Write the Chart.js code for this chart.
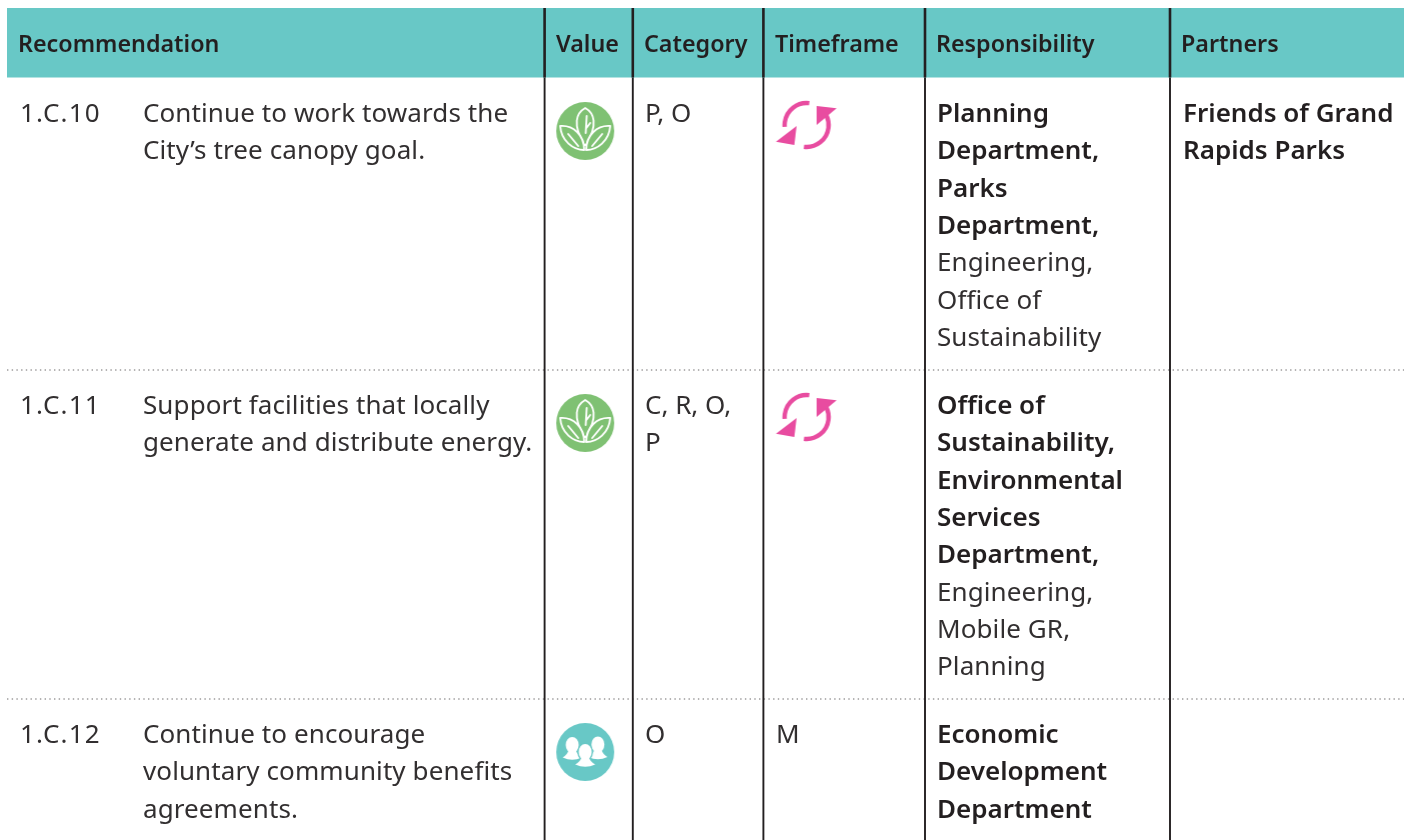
<!DOCTYPE html>
<html>

<head>
  <script src="https://cdnjs.cloudflare.com/ajax/libs/Chart.js/4.4.1/chart.umd.min.js"></script>
  <style>
    html, body { margin: 0; padding: 0; background: #fff; }
    canvas { display: block; }
  </style>
</head>

<body>
  <canvas id="myChart" width="1413" height="840"></canvas>

  <script type="text/javascript">
    // table content
    var headers = ["Recommendation", "Value", "Category", "Timeframe", "Responsibility", "Partners"];
    var rowIds = ["1.C.10", "1.C.11", "1.C.12"];
    var recommendations = [
      ["Continue to work towards the", "City\u2019s tree canopy goal."],
      ["Support facilities that locally", "generate and distribute energy."],
      ["Continue to encourage", "voluntary community benefits", "agreements."]
    ];
    var values = ["leaf", "leaf", "people"];
    var categories = [["P, O"], ["C, R, O,", "P"], ["O"]];
    var timeframes = ["cycle", "cycle", "M"];
    var responsibleLead = [
      ["Planning", "Department,", "Parks", "Department,"],
      ["Office of", "Sustainability,", "Environmental", "Services", "Department,"],
      ["Economic", "Development", "Department"]
    ];
    var responsibleOther = [
      ["Engineering,", "Office of", "Sustainability"],
      ["Engineering,", "Mobile GR,", "Planning"],
      []
    ];
    var partners = [["Friends of Grand", "Rapids Parks"], [], []];

    // layout, in the pixel units of the two hidden axes
    var WIDTH = 1413, HEIGHT = 840;
    var band = { left: 7, right: 1404, top: 8, bottom: 77.5 };
    var colLines = [544.6, 632.8, 763.4, 925, 1170];
    var rowLines = [370, 699];
    var headerX = [18, 556, 644, 775, 936, 1181];
    var cellX = { id: 20, rec: 143, cat: 645, time: 776, resp: 937, part: 1183 };
    var rowBase = [122, 414, 743];
    var rowIconY = [131, 423, 752];
    var LINE = 37.35;

    var INK = "#231f20";
    var BODY_INK = "#322f30";
    var TEAL = "#68c8c6";
    var FONT = '"Noto Sans", sans-serif';

    function iconCanvas(size, draw) {
      var c = document.createElement("canvas");
      c.width = size;
      c.height = size;
      var g = c.getContext("2d");
      g.translate(size / 2, size / 2);
      draw(g);
      return c;
    }

    var leafIcon = iconCanvas(60, function (g) {
      g.fillStyle = "#7fc173";
      g.beginPath();
      g.arc(0, 0, 29, 0, Math.PI * 2);
      g.fill();
      g.strokeStyle = "#fff";
      g.lineWidth = 1.9;
      g.lineJoin = "round";
      g.lineCap = "round";
      // middle leaf first, the side leaves cover its foot
      g.beginPath();
      g.moveTo(0, -23);
      g.bezierCurveTo(9, -18, 13, -7, 1, 14);
      g.lineTo(-1, 14);
      g.bezierCurveTo(-13, -7, -9, -18, 0, -23);
      g.closePath();
      g.stroke();
      [-1, 1].forEach(function (side) {
        g.save();
        g.scale(side, 1);
        g.beginPath();
        g.moveTo(-25, -5);
        g.bezierCurveTo(-12, -6, -1, 4, -1, 19);
        g.bezierCurveTo(-12, 19, -24, 10, -25, -5);
        g.closePath();
        g.fill();
        g.stroke();
        g.beginPath();
        g.moveTo(-17, 3);
        g.lineTo(-7, 15);
        g.stroke();
        g.restore();
      });
      g.beginPath();
      g.moveTo(1.5, -15);
      g.lineTo(0.5, 2);
      g.moveTo(1.2, -3);
      g.lineTo(5, -8);
      g.stroke();
    });

    var peopleIcon = iconCanvas(60, function (g) {
      g.fillStyle = TEAL;
      g.beginPath();
      g.arc(0, 0, 29, 0, Math.PI * 2);
      g.fill();
      function person(x, y, half, outline) {
        g.beginPath();
        g.ellipse(x, y, 6.5, 8, 0, 0, Math.PI * 2);
        g.moveTo(x - half, y + 12.5);
        g.quadraticCurveTo(x - 5, y + 10, x - 3.5, y + 5);
        g.lineTo(x + 3.5, y + 5);
        g.quadraticCurveTo(x + 5, y + 10, x + half, y + 12.5);
        g.quadraticCurveTo(x, y + 17, x - half, y + 12.5);
        g.closePath();
        if (outline) {
          g.strokeStyle = TEAL;
          g.lineWidth = 2.6;
          g.stroke();
        }
        g.fillStyle = "#fff";
        g.fill();
      }
      person(-13, -7, 9.5, false);
      person(12.7, -7.5, 9.5, false);
      person(0, 0, 10, true);
    });

    var cycleIcon = iconCanvas(64, function (g) {
      g.strokeStyle = "#e84ca0";
      g.fillStyle = "#e84ca0";
      g.lineWidth = 4.4;
      g.beginPath();
      g.arc(0, 0, 22, -83 * Math.PI / 180, -185 * Math.PI / 180, true);
      g.stroke();
      g.beginPath();
      g.arc(0, 0, 22, 97 * Math.PI / 180, -25 * Math.PI / 180, true);
      g.stroke();
      g.beginPath();
      g.moveTo(-30.7, 16.7);
      g.lineTo(-10, 1);
      g.lineTo(-12.3, 20);
      g.closePath();
      g.fill();
      g.beginPath();
      g.moveTo(10, -19);
      g.lineTo(30, -16.7);
      g.lineTo(10, 0);
      g.closePath();
      g.fill();
    });

    // one line dataset per rule of the table
    var ruleSets = [];
    colLines.forEach(function (x) {
      ruleSets.push({
        type: "scatter", showLine: true, pointRadius: 0, order: 2,
        borderColor: INK, borderWidth: 2.6,
        data: [{ x: x, y: band.top }, { x: x, y: band.bottom }]
      });
      ruleSets.push({
        type: "scatter", showLine: true, pointRadius: 0, order: 2,
        borderColor: INK, borderWidth: 1.9,
        data: [{ x: x, y: band.bottom }, { x: x, y: HEIGHT }]
      });
    });
    rowLines.forEach(function (y) {
      ruleSets.push({
        type: "scatter", showLine: true, pointRadius: 0, order: 3,
        borderColor: "#6b6869", borderWidth: 1, borderDash: [1.4, 3.3],
        data: [{ x: band.left, y: y }, { x: band.right, y: y }]
      });
    });

    var iconFor = { leaf: leafIcon, people: peopleIcon, cycle: cycleIcon };
    var valuePoints = [], valueStyles = [];
    values.forEach(function (v, i) {
      valuePoints.push({ x: 585.2, y: rowIconY[i] });
      valueStyles.push(iconFor[v]);
    });
    var timePoints = [], timeStyles = [];
    timeframes.forEach(function (t, i) {
      if (iconFor[t]) {
        timePoints.push({ x: 806.6, y: rowBase[i] + 3 });
        timeStyles.push(iconFor[t]);
      }
    });

    // header band sits under the rules, the text goes on top
    var bandPlugin = {
      id: "bandPlugin",
      beforeDatasetsDraw: function (chart) {
        var sx = chart.scales.x, sy = chart.scales.y, c = chart.ctx;
        c.fillStyle = TEAL;
        c.fillRect(sx.getPixelForValue(band.left), sy.getPixelForValue(band.top),
          sx.getPixelForValue(band.right) - sx.getPixelForValue(band.left),
          sy.getPixelForValue(band.bottom) - sy.getPixelForValue(band.top));
      }
    };

    var textPlugin = {
      id: "textPlugin",
      afterDatasetsDraw: function (chart) {
        var sx = chart.scales.x, sy = chart.scales.y, c = chart.ctx;
        function put(s, x, y, weight, size, spacing) {
          c.font = weight + " " + size + "px " + FONT;
          c.letterSpacing = spacing + "px";
          c.fillStyle = weight >= 600 ? INK : BODY_INK;
          c.fillText(s, sx.getPixelForValue(x), sy.getPixelForValue(y));
        }
        function lines(list, x, y, weight, spacing) {
          list.forEach(function (s, i) {
            put(s, x, y + i * LINE, weight, 26, spacing || 0);
          });
        }
        c.save();
        c.textBaseline = "alphabetic";
        c.textAlign = "left";
        headers.forEach(function (h, i) {
          put(h, headerX[i], 52, 600, 23.3, 0);
        });
        rowIds.forEach(function (id, i) {
          var y = rowBase[i];
          lines([id], cellX.id, y, 400, 1.2);
          lines(recommendations[i], cellX.rec, y, 400, 0.1);
          lines(categories[i], cellX.cat, y, 400, 0);
          if (!iconFor[timeframes[i]]) lines([timeframes[i]], cellX.time, y, 400);
          lines(responsibleLead[i], cellX.resp, y, 600);
          lines(responsibleOther[i], cellX.resp, y + responsibleLead[i].length * LINE, 400, 0.1);
          lines(partners[i], cellX.part, y, 600);
        });
        c.restore();
      }
    };

    var ctx = document.getElementById("myChart").getContext("2d");
    var chart = new Chart(ctx, {
      type: "scatter",
      data: {
        datasets: ruleSets.concat([
          { data: valuePoints, pointStyle: valueStyles, order: 1 },
          { data: timePoints, pointStyle: timeStyles, order: 1 }
        ])
      },
      options: {
        responsive: false,
        animation: false,
        events: [],
        layout: { padding: 0, autoPadding: false },
        plugins: { legend: { display: false }, tooltip: { enabled: false } },
        scales: {
          x: { type: "linear", display: false, min: 0, max: WIDTH },
          y: { type: "linear", display: false, min: 0, max: HEIGHT, reverse: true }
        }
      },
      plugins: [bandPlugin, textPlugin]
    });
  </script>
</body>

</html>
